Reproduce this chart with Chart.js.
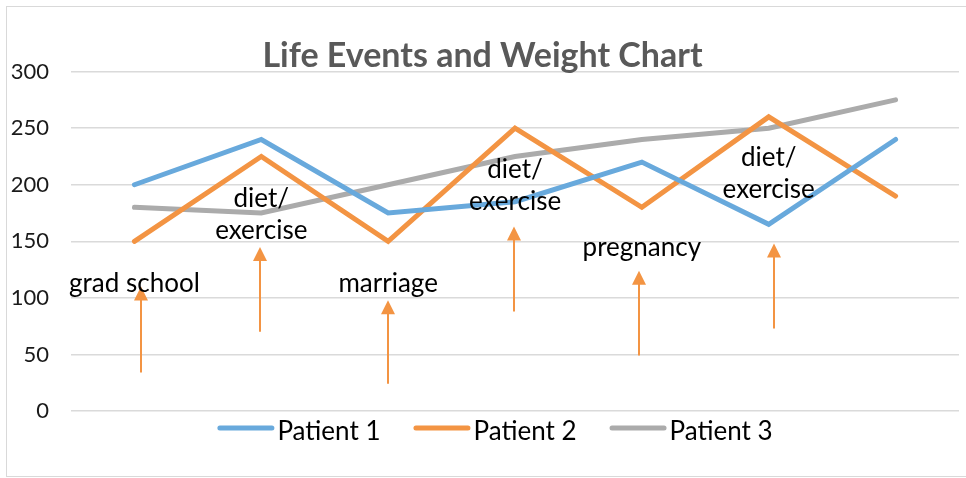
<!DOCTYPE html>
<html>
<head>
<meta charset="utf-8">
<script src="https://cdn.jsdelivr.net/npm/chart.js@4/dist/chart.umd.min.js"></script>
<style>
  html, body { margin: 0; padding: 0; background: #fff; }
  #wrap { position: relative; width: 966px; height: 478px; }
</style>
</head>
<body>
<div id="wrap"><canvas id="c" width="966" height="478"></canvas></div>
<script>
// ---- data ----
const categories = ['1', '2', '3', '4', '5', '6', '7'];
const patient1 = [200, 240, 175, 185, 220, 165, 240];
const patient2 = [150, 225, 150, 250, 180, 260, 190];
const patient3 = [180, 175, 200, 225, 240, 250, 275];
const seriesNames = ['Patient 1', 'Patient 2', 'Patient 3'];
const yTicks = [0, 50, 100, 150, 200, 250, 300];

// life-event annotations (category index / weight value)
const eventLabels = ['grad school', 'diet/\nexercise', 'marriage', 'diet/\nexercise', 'pregnancy', 'diet/\nexercise'];
const eventLabelX = [0, 1, 2, 3, 4, 5];
const eventLabelY = [113, 174, 113, 199, 144, 210];
const arrowX = [0.055, 0.99, 2.0, 2.99, 3.98, 5.04];
const arrowFrom = [34, 70, 24, 88, 49, 73];
const arrowTo = [110, 145, 98, 163, 124, 148];

const colors = ['#68A9DC', '#F39443', '#ABABAB'];
const arrowColor = '#F39443';
const FONT = 'Lato, "Open Sans", sans-serif';

const frame = {
  id: 'frame',
  beforeDraw(chart) {
    const ctx = chart.ctx;
    ctx.save();
    ctx.fillStyle = '#fff';
    ctx.fillRect(0, 0, chart.width, chart.height);
    ctx.strokeStyle = '#D9D9D9';
    ctx.lineWidth = 1;
    ctx.strokeRect(6.5, 6.5, chart.width, chart.height - 8);
    ctx.restore();
  }
};

const events = {
  id: 'events',
  afterDatasetsDraw(chart) {
    const ctx = chart.ctx;
    const xs = chart.scales.x, ys = chart.scales.y;
    ctx.save();
    ctx.strokeStyle = arrowColor;
    ctx.fillStyle = arrowColor;
    ctx.lineWidth = 2;
    for (let i = 0; i < arrowX.length; i++) {
      const x = Math.round(xs.getPixelForValue(arrowX[i]));
      const y0 = ys.getPixelForValue(arrowFrom[i]);
      const y1 = ys.getPixelForValue(arrowTo[i]);
      const head = 14;
      ctx.beginPath();
      ctx.moveTo(x, y0);
      ctx.lineTo(x, y1 + head - 1);
      ctx.stroke();
      ctx.beginPath();
      ctx.moveTo(x, y1);
      ctx.lineTo(x - 7, y1 + head);
      ctx.lineTo(x + 7, y1 + head);
      ctx.closePath();
      ctx.fill();
    }
    ctx.fillStyle = '#000';
    ctx.font = '26px ' + FONT;
    ctx.textAlign = 'center';
    ctx.textBaseline = 'middle';
    const lh = 32;
    for (let i = 0; i < eventLabels.length; i++) {
      const x = xs.getPixelForValue(eventLabelX[i]);
      const yc = ys.getPixelForValue(eventLabelY[i]);
      const lines = eventLabels[i].split('\n');
      const top = yc - (lines.length - 1) * lh / 2;
      lines.forEach((t, k) => ctx.fillText(t, x, top + k * lh));
    }
    ctx.restore();
  }
};

// legend drawn from the datasets, laid out like the original (short gap between line and text)
const lineLegend = {
  id: 'lineLegend',
  afterDraw(chart) {
    const ctx = chart.ctx;
    const ds = chart.data.datasets;
    ctx.save();
    ctx.font = '26px ' + FONT;
    const sample = 57, gapText = 3, gapItem = 33;
    const widths = ds.map(d => sample + gapText + ctx.measureText(d.label).width);
    const total = widths.reduce((a, b) => a + b, 0) + gapItem * (ds.length - 1);
    let x = chart.width / 2 + 12 - total / 2;
    const y = chart.chartArea.bottom + 21;
    ctx.textBaseline = 'middle';
    ctx.textAlign = 'left';
    ds.forEach((d, i) => {
      ctx.strokeStyle = d.borderColor;
      ctx.lineWidth = 5;
      ctx.lineCap = 'round';
      ctx.beginPath();
      ctx.moveTo(x + 2.5, y - 4);
      ctx.lineTo(x + sample - 2.5, y - 4);
      ctx.stroke();
      ctx.fillStyle = '#000';
      ctx.fillText(d.label, x + sample + gapText, y);
      x += widths[i] + gapItem;
    });
    ctx.restore();
  }
};

new Chart(document.getElementById('c'), {
  type: 'line',
  data: {
    labels: categories,
    datasets: [patient1, patient2, patient3].map((d, i) => ({
      label: seriesNames[i],
      data: d,
      borderColor: colors[i],
      backgroundColor: colors[i],
      borderWidth: 5,
      pointRadius: 0,
      pointHoverRadius: 0,
      tension: 0,
      borderCapStyle: 'round',
      borderJoinStyle: 'miter',
      fill: false
    }))
  },
  options: {
    responsive: false,
    animation: false,
    devicePixelRatio: 1,
    layout: { padding: { left: 6, right: 7, top: 0, bottom: 67 } },
    plugins: {
      tooltip: { enabled: false },
      legend: { display: false },
      title: {
        display: true,
        text: 'Life Events and Weight Chart',
        color: '#595959',
        font: { family: FONT, size: 34, weight: 'bold', lineHeight: 0.9 },
        padding: { top: 41, bottom: 0 }
      }
    },
    scales: {
      x: {
        offset: true,
        grid: { display: false, drawTicks: false },
        border: { display: false },
        ticks: { display: false }
      },
      y: {
        min: 0,
        max: 300,
        afterBuildTicks(scale) { scale.ticks = yTicks.map(v => ({ value: v })); },
        afterFit(scale) { scale.width = 65; },
        grid: { color: '#DADADA', lineWidth: 1.5, drawTicks: false },
        border: { display: false },
        ticks: {
          padding: 22,
          color: '#1a1a1a',
          font: { family: FONT, size: 22 }
        }
      }
    }
  },
  plugins: [frame, events, lineLegend]
});
</script>
</body>
</html>
